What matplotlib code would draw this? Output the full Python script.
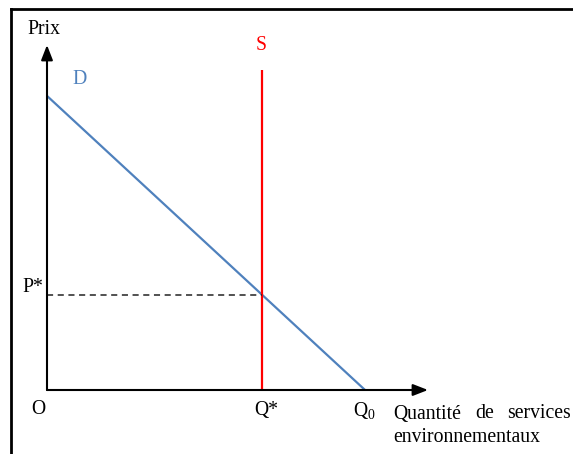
import matplotlib
matplotlib.use("Agg")
import matplotlib.pyplot as plt
from matplotlib.lines import Line2D

# Economic values (arbitrary units)
q0 = 10.0            # quantity where demand hits zero price
p_max = 10.0         # demand intercept on price axis
q_star = 6.76        # fixed supply quantity
p_star = p_max * (1 - q_star / q0)
s_top = 10.88        # top of supply line
x_max = 11.98        # x-axis arrow tip
y_max = 11.73        # y-axis arrow tip

demand_q = [0.0, q0]
demand_p = [p_max, 0.0]
supply_q = [q_star, q_star]
supply_p = [0.0, s_top]

W, H = 573, 454
fig = plt.figure(figsize=(W / 100, H / 100), dpi=100)
plt.rcParams['font.family'] = ['Liberation Serif', 'DejaVu Serif']
FS = 14.2

ax = fig.add_axes([47 / W, (H - 390) / H, 381 / W, 345 / H])
ax.set_xlim(0, x_max)
ax.set_ylim(0, y_max)
ax.axis('off')

blue = '#4F81BD'
red = '#FF0000'

ax.plot(demand_q, demand_p, color=blue, lw=1.6, solid_capstyle='butt')
ax.plot(supply_q, supply_p, color=red, lw=1.6, solid_capstyle='butt')
ax.plot([0, q_star], [p_star, p_star], color='#222222', lw=1.1, ls=(0, (4, 3)))

arrow = dict(arrowstyle='-|>,head_length=0.9,head_width=0.35', lw=1.5,
             color='black', shrinkA=0, shrinkB=0, mutation_scale=10)
ax.annotate('', xy=(x_max, 0), xytext=(0, 0), arrowprops=arrow, annotation_clip=False)
ax.annotate('', xy=(0, y_max), xytext=(0, 0), arrowprops=arrow, annotation_clip=False)

# frame lines
fig.add_artist(Line2D([11 / W, 11 / W], [0, 1 - 9 / H], color='black', lw=2.0,
                      transform=fig.transFigure))
fig.add_artist(Line2D([11 / W, 1], [1 - 9 / H, 1 - 9 / H], color='black', lw=2.0,
                      transform=fig.transFigure))

def t(x, y, s, **kw):
    fig.text(x / W, 1 - y / H, s, fontsize=FS, ha='center', va='center', **kw)

t(44, 30, 'Prix')
t(80, 79, 'D', color=blue)
t(261, 45, 'S', color=red)
t(33, 288, 'P*')
t(38, 410, 'O')
t(266, 411, 'Q*')
t(364, 411, 'Q$_{\\mathregular{0}}$')
fig.text(393 / W, 1 - 414 / H, 'Quantité', fontsize=FS, ha='left', va='center')
fig.text(485 / W, 1 - 414 / H, 'de', fontsize=FS, ha='center', va='center')
fig.text(571 / W, 1 - 414 / H, 'services', fontsize=FS, ha='right', va='center')
fig.text(393 / W, 1 - 437 / H, 'environnementaux', fontsize=FS, ha='left', va='center')

fig.savefig('out.png', dpi=100)
